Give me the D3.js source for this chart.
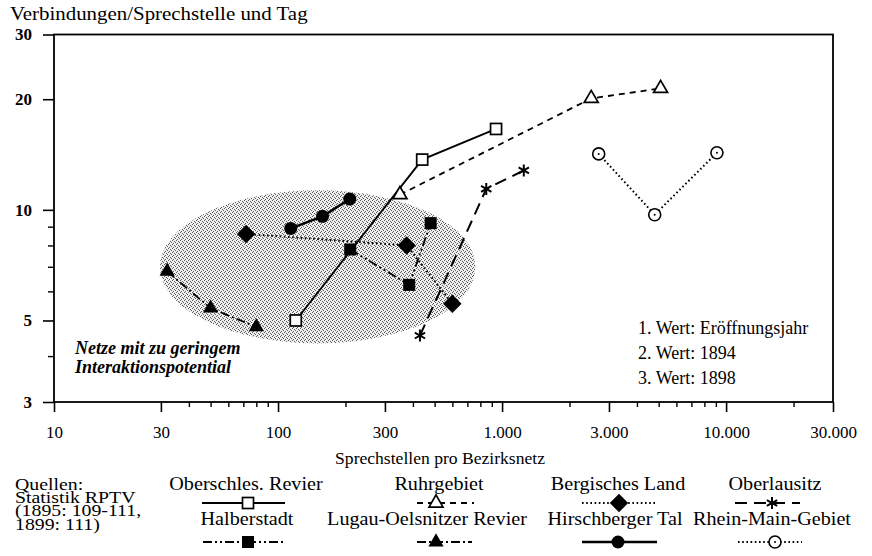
<!DOCTYPE html>
<html><head><meta charset="utf-8">
<script src="https://cdn.jsdelivr.net/npm/d3@7"></script>
<style>body{margin:0;background:#fff}svg{display:block}</style>
</head><body>
<svg id="c" width="872" height="556"></svg>
<script>
// ---------- data ----------
const seriesNames = ["Oberschles. Revier","Ruhrgebiet","Bergisches Land","Oberlausitz",
                     "Halberstadt","Lugau-Oelsnitzer Revier","Hirschberger Tal","Rhein-Main-Gebiet"];
const oberschlesX = [120, 440, 940],   oberschlesY = [5.0, 13.7, 16.6];
const ruhrX       = [350, 2500, 5100], ruhrY       = [11.0, 20.1, 21.4];
const bergischX   = [72, 375, 600],    bergischY   = [8.6, 8.0, 5.55];
const oberlausitzX= [430, 850, 1250],  oberlausitzY= [4.55, 11.4, 12.8];
const halberstadtX= [210, 385, 480],   halberstadtY= [7.8, 6.25, 9.2];
const lugauX      = [32, 50, 80],      lugauY      = [6.8, 5.4, 4.8];
const hirschbergX = [114, 158, 209],   hirschbergY = [8.9, 9.6, 10.7];
const rheinMainX  = [2700, 4800, 9100],rheinMainY  = [14.2, 9.7, 14.3];
const xTickValues = [10, 30, 100, 300, 1000, 3000, 10000, 30000];
const yTickValues = [3, 5, 10, 20, 30];
const xMinorTicks = [40,50,60,70,80,90,200,400,500,600,700,800,900,2000,4000,5000,6000,7000,8000,9000,20000];
const yMinorTicks = [4, 6, 7, 8, 9];
const zoneX = [29.7, 760];   // shaded region extent (x)
const zoneY = [4.33, 11.3];  // shaded region extent (y)
const yTitle = "Verbindungen/Sprechstelle und Tag";
const xTitle = "Sprechstellen pro Bezirksnetz";
const zoneLabel = ["Netze mit zu geringem", "Interaktionspotential"];
const noteLines = ["1. Wert: Eröffnungsjahr", "2. Wert: 1894", "3. Wert: 1898"];
const sourceLines = ["Quellen:", "Statistik RPTV", "(1895: 109-111,", "1899: 111)"];

// ---------- styles ----------
const styles = [
  {marker:"squareOpen",   dash:null,           w:1.8},
  {marker:"triangleOpen", dash:"6,5",          w:1.8},
  {marker:"diamond",      dash:"1.6,2.6",      w:2},
  {marker:"asterisk",     dash:"12,7",         w:2},
  {marker:"square",       dash:"9,3,2,3,2,3",  w:1.8},
  {marker:"triangle",     dash:"9,3,2,3",      w:1.8},
  {marker:"circle",       dash:null,           w:2.5},
  {marker:"circleOpen",   dash:"1.6,2.6",      w:2}
];
const seriesX = [oberschlesX, ruhrX, bergischX, oberlausitzX, halberstadtX, lugauX, hirschbergX, rheinMainX];
const seriesY = [oberschlesY, ruhrY, bergischY, oberlausitzY, halberstadtY, lugauY, hirschbergY, rheinMainY];

const FONT = "'Liberation Serif','Times New Roman',serif";
const svg = d3.select("#c").style("font-family", FONT);

const L = 54, R = 833, T = 34.5, B = 402;
const x = d3.scaleLog().domain([10, 30000]).range([L, R]);
const y = d3.scaleLog().domain([3, 30]).range([B, T]);

function txt(parent, px, py, s, o) {
  const g = parent.append("g").attr("transform", `translate(${px},${py}) scale(${o.sx||1},1)`);
  return g.append("text").attr("text-anchor", o.anchor || "start")
    .attr("font-size", o.size).attr("font-weight", o.weight || "normal")
    .attr("font-style", o.style || "normal").attr("fill", "#000").text(s);
}

// stipple pattern
const defs = svg.append("defs");
const pat = defs.append("pattern").attr("id", "stip").attr("width", 4).attr("height", 4)
  .attr("patternUnits", "userSpaceOnUse");
pat.append("rect").attr("width", 4).attr("height", 4).attr("fill", "#efefef");
[[0,0],[2,1],[1,3],[3,2]].forEach(p => pat.append("rect").attr("x", p[0]).attr("y", p[1])
  .attr("width", 1).attr("height", 1).attr("fill", "#5a5a5a"));

// shaded zone
svg.append("ellipse")
  .attr("cx", (x(zoneX[0]) + x(zoneX[1])) / 2)
  .attr("cy", (y(zoneY[0]) + y(zoneY[1])) / 2)
  .attr("rx", (x(zoneX[1]) - x(zoneX[0])) / 2)
  .attr("ry", (y(zoneY[0]) - y(zoneY[1])) / 2)
  .attr("fill", "url(#stip)");

// axes
const fmt = d3.formatLocale({decimal: ",", thousands: ".", grouping: [3], currency: ["", "€"]}).format(",");
const yAx = svg.append("g").attr("transform", `translate(${L},0)`)
  .call(d3.axisLeft(y).tickValues(yTickValues).tickFormat(d3.format("d")).tickSize(11).tickPadding(11));
yAx.select(".domain").remove();
yAx.selectAll("line").attr("stroke-width", 1.6);
yAx.selectAll("text").attr("font-size", 17).attr("font-weight", "bold").attr("font-family", FONT).attr("fill", "#000");
const yMin = svg.append("g").attr("transform", `translate(${L},0)`)
  .call(d3.axisLeft(y).tickValues(yMinorTicks).tickFormat("").tickSize(6));
yMin.select(".domain").remove();
yMin.selectAll("line").attr("stroke-width", 1.4);

const xAx = svg.append("g").attr("transform", `translate(0,${B})`)
  .call(d3.axisBottom(x).tickValues(xTickValues).tickFormat(fmt).tickSize(10));
xAx.select(".domain").remove();
xAx.selectAll("line").attr("stroke-width", 1.6);
xAx.selectAll("text").attr("font-size", 17).attr("font-family", FONT).attr("fill", "#000")
  .attr("dy", null).attr("y", 36);
const xMin = svg.append("g").attr("transform", `translate(0,${B})`)
  .call(d3.axisBottom(x).tickValues(xMinorTicks).tickFormat("").tickSize(5));
xMin.select(".domain").remove();
xMin.selectAll("line").attr("stroke-width", 1.4);

// frame
svg.append("rect").attr("x", L).attr("y", T).attr("width", R - L).attr("height", B - T)
  .attr("fill", "none").attr("stroke", "#000").attr("stroke-width", 1.8);

// titles
txt(svg, 10, 20, yTitle, {size: 19, sx: 1.1});
txt(svg, 440, 464, xTitle, {size: 16, sx: 1.1, anchor: "middle"});

// zone label
zoneLabel.forEach((s, i) => txt(svg, 75, 354 + i * 19, s, {size: 18, weight: "bold", style: "italic"}));
// notes
noteLines.forEach((s, i) => txt(svg, 638, 334 + i * 25, s, {size: 18, sx: 1.0}));

// markers
function marker(g, type, cx, cy) {
  const k = g.append("g").attr("transform", `translate(${cx},${cy})`);
  switch (type) {
    case "squareOpen":
      k.append("rect").attr("x", -5.5).attr("y", -5.5).attr("width", 11).attr("height", 11)
        .attr("fill", "#fff").attr("stroke", "#000").attr("stroke-width", 1.7); break;
    case "square":
      k.append("rect").attr("x", -6).attr("y", -6).attr("width", 12).attr("height", 12).attr("fill", "#000"); break;
    case "triangleOpen":
      k.append("path").attr("d", d3.symbol(d3.symbolTriangle, 85)()).attr("fill", "#fff")
        .attr("stroke", "#000").attr("stroke-width", 1.7); break;
    case "triangle":
      k.append("path").attr("d", d3.symbol(d3.symbolTriangle, 100)()).attr("fill", "#000"); break;
    case "diamond":
      k.append("path").attr("d", d3.symbol(d3.symbolSquare, 170)()).attr("transform", "rotate(45)").attr("fill", "#000"); break;
    case "asterisk":
      k.append("path").attr("d", d3.symbol(d3.symbolAsterisk, 100)()).attr("fill", "none")
        .attr("stroke", "#000").attr("stroke-width", 2); break;
    case "circle":
      k.append("circle").attr("r", 6.5).attr("fill", "#000"); break;
    case "circleOpen":
      k.append("circle").attr("r", 6).attr("fill", "#fff").attr("stroke", "#000").attr("stroke-width", 1.6);
      k.append("circle").attr("r", 1).attr("fill", "#000"); break;
  }
}

const lineGen = d3.line().x(d => x(d[0])).y(d => y(d[1]));
const linesG = svg.append("g").attr("fill", "none").attr("stroke", "#000");
seriesX.forEach((xs, i) => {
  const pts = xs.map((v, j) => [v, seriesY[i][j]]);
  linesG.append("path").attr("d", lineGen(pts)).attr("stroke-width", styles[i].w)
    .attr("stroke-dasharray", styles[i].dash);
});
const markG = svg.append("g");
seriesX.forEach((xs, i) => xs.forEach((v, j) => marker(markG, styles[i].marker, x(v), y(seriesY[i][j]))));

// sources block (one text element, tight leading as in the original)
const src = svg.append("g").attr("transform", "translate(15,490) scale(1.2,1)")
  .append("text").attr("font-size", 16.5).attr("fill", "#000");
sourceLines.forEach((s, i) => src.append("tspan").attr("x", 0).attr("y", i * 13.2).text(s));

// legend
const legCenters = [246, 439, 618, 775, 247, 427, 615, 772];
const legSample = [[202,248,285],[417,436,474],[582,619,655],[735,772,800],
                   [203,248,285],[417,436,472],[582,618,657],[738,775,802]];
const legG = svg.append("g");
seriesNames.forEach((name, i) => {
  const row = i < 4 ? 0 : 1;
  const ly = row === 0 ? 490 : 525;
  const sy = row === 0 ? 503 : 542;
  txt(legG, legCenters[i], ly, name, {size: 18, sx: 1.12, anchor: "middle"});
  const s = legSample[i];
  legG.append("line").attr("x1", s[0]).attr("x2", s[2]).attr("y1", sy).attr("y2", sy)
    .attr("stroke", "#000").attr("stroke-width", styles[i].w).attr("stroke-dasharray", styles[i].dash);
  marker(legG, styles[i].marker, s[1], sy);
});
</script>
</body></html>
